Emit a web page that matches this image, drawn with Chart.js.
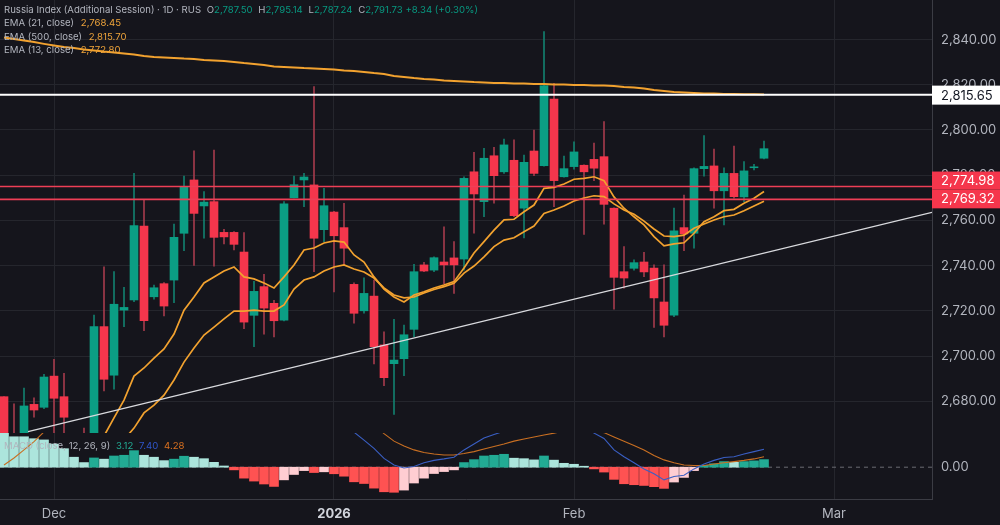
<!DOCTYPE html>
<html>
<head>
<meta charset="utf-8">
<script src="https://cdn.jsdelivr.net/npm/chart.js@4/dist/chart.umd.min.js"></script>
<style>
    html, body { margin: 0; padding: 0; background: #15151c; width: 1000px; height: 525px; overflow: hidden; }
    canvas { position: absolute; left: 0; }
    #price-chart { top: 0; }
    #macd-chart { top: 433px; }
    .legend { position: absolute; left: 4px; font: 9.6px Inter, sans-serif; color: #b2b5be; line-height: 14px; white-space: nowrap; }
    .orange { color: #eda33a; margin-left: 4px; }
    .teal { color: #089981; }
    .gap { margin-left: 3px; }
</style>
</head>
<body>
<canvas id="price-chart" width="1000" height="433"></canvas>
<canvas id="macd-chart" width="1000" height="92"></canvas>

<div class="legend" style="top:3px">Russia Index (Additional Session) · 1D · RUS <span class="gap">O</span><span class="teal">2,787.50</span> <span class="gap">H</span><span class="teal">2,795.14</span> <span class="gap">L</span><span class="teal">2,787.24</span> <span class="gap">C</span><span class="teal">2,791.73</span> <span class="teal">+8.34 (+0.30%)</span></div>
<div class="legend" style="top:16px">EMA (21, close) <span class="orange">2,768.45</span></div>
<div class="legend" style="top:30px">EMA (500, close) <span class="orange">2,815.70</span></div>
<div class="legend" style="top:43px">EMA (13, close) <span class="orange">2,772.80</span></div>
<div class="legend" style="top:439px">MACD (close, 12, 26, 9) <span class="gap" style="color:#22ab94">3.12</span> <span class="gap" style="color:#2f55c9">7.40</span> <span class="gap" style="color:#d9701f">4.28</span></div>

<script>
// Candles, one per session
const opens = [2682.0,2664,2660.6,2678.6,2677.3,2691.1,2682.0,2650,2660,2650,2713.0,2691.5,2720.3,2724.8,2757.5,2726.2,2732.0,2733.6,2754.3,2777.9,2766.4,2768.3,2754.7,2754.7,2746.0,2718.0,2730.7,2723.3,2715.9,2770.0,2777.9,2775.7,2755.9,2763.7,2756.8,2731.7,2720.0,2726.5,2704.9,2696.6,2698.8,2711.8,2740.3,2738.0,2741.6,2743.4,2742.9,2781.5,2768.3,2788.6,2781.5,2786.6,2765.4,2790.7,2784.2,2813.7,2779.3,2783.8,2784.4,2787.0,2788.2,2765.4,2737.3,2738.8,2741.6,2738.9,2723.9,2718.1,2756.8,2754.3,2782.9,2784.1,2773.1,2780.8,2770.4,2783.3,2787.50];
const closes = [2662.8,2650,2677.9,2676.1,2690.7,2681.3,2672.9,2655,2650,2713.0,2689.7,2722.9,2721.5,2757.7,2715.6,2730.2,2722.1,2752.5,2774.9,2763.1,2768.1,2752.5,2752.7,2749.4,2715.0,2728.6,2721.2,2715.6,2767.3,2775.8,2779.2,2752.1,2766.5,2753.2,2747.7,2718.9,2727.7,2704.1,2690.4,2698.2,2709.4,2737.3,2737.6,2743.5,2740.3,2740.3,2778.6,2771.7,2787.5,2779.8,2793.4,2762.1,2785.7,2780.8,2819.6,2777.6,2782.9,2790.3,2781.5,2783.1,2767.1,2734.8,2734.5,2741.3,2737.2,2725.7,2713.6,2755.4,2754.0,2782.9,2783.9,2773.1,2780.8,2770.5,2781.9,2783.7,2791.73];
const highs = [2682.0,2678.8,2685.8,2681.5,2691.9,2698.5,2692.3,2658,2668.1,2718.1,2739.5,2737.3,2730.4,2780.8,2769.0,2731.4,2732.5,2758.4,2779.6,2790.8,2772.7,2791.1,2756.1,2755.0,2754.6,2733.0,2736.1,2724.6,2768.3,2779.6,2780.8,2819.2,2774.2,2764,2767.6,2732.4,2734.6,2733.6,2710.7,2716.2,2713.7,2740.6,2741.5,2743.9,2757.2,2750.6,2779.3,2790.1,2791.9,2792.3,2796.0,2795.6,2788.9,2800.0,2843.5,2820.7,2788.5,2794.8,2784.6,2794.2,2803.7,2765.6,2748.4,2742.5,2745.9,2740.3,2740.3,2765.4,2771.2,2783.3,2797.5,2791.6,2783.3,2792.9,2786.0,2784.8,2795.14];
const lows = [2660,2645,2656,2672.9,2676.7,2662.8,2660,2640,2645,2645,2684.6,2685.3,2713.0,2724.0,2711.2,2725.1,2717.7,2723.6,2746.6,2740.1,2752.1,2739.8,2749.6,2746.9,2712.1,2704.1,2709.7,2708.4,2715.5,2769.9,2766.1,2737.3,2750.6,2728.4,2740.3,2714.5,2718.9,2696.5,2686.9,2674.2,2691.3,2708.5,2737.3,2737.3,2731.9,2727.7,2738.0,2754.3,2761.6,2767.6,2780.8,2761.6,2752.3,2779.8,2784.0,2766.1,2779.1,2782.7,2753.8,2777.6,2758.3,2720.7,2730.0,2738.0,2735.1,2712.7,2708.4,2717.4,2746.6,2747.7,2779.6,2765.4,2758.0,2769.8,2768.3,2782.3,2787.24];

// Moving averages
const ema500 = [2840.9,2840.3,2839.6,2838.9,2838.1,2837.4,2836.7,2836.3,2835.6,2835.2,2834.7,2834.3,2833.9,2833.4,2832.7,2832.3,2832.1,2831.9,2831.6,2831.4,2831.0,2830.8,2830.5,2830.1,2829.6,2829.2,2828.8,2828.1,2827.9,2827.7,2827.4,2827.2,2827.0,2826.8,2826.3,2826.1,2825.7,2825.2,2824.8,2823.9,2823.5,2823.0,2822.6,2822.3,2821.9,2821.7,2821.5,2821.2,2821.0,2820.8,2820.8,2820.6,2820.6,2820.4,2820.4,2820.1,2820.1,2819.9,2819.9,2819.7,2819.7,2819.5,2819.0,2818.8,2818.4,2817.7,2817.3,2816.8,2816.6,2816.4,2816.2,2816.1,2815.9,2815.9,2815.8,2815.8,2815.70];
const ema13 = [null,null,null,null,null,null,null,null,null,null,2664.6,2672.6,2680.5,2691.1,2694.7,2699.1,2703.1,2709.7,2720.3,2726.1,2732.3,2735.0,2737.6,2739.4,2735.0,2734.1,2732.3,2730.1,2735.0,2740.3,2746.9,2747.8,2750.0,2750.9,2750.4,2744.7,2741.6,2735.0,2729.6,2726.1,2723.9,2727.0,2728.4,2730.1,2731.4,2732.9,2738.9,2745.6,2750.6,2755.7,2760.2,2760.5,2763.8,2766.8,2774.2,2774.6,2776.1,2778.2,2778.6,2779.3,2777.6,2770.4,2765.4,2761.6,2758.0,2752.8,2748.7,2749.6,2750.1,2754.3,2759.4,2761.6,2764.3,2764.9,2767.6,2769.8,2772.80];
const ema21 = [null,null,null,null,null,null,null,null,null,null,null,null,2663,2668.1,2674.8,2678.3,2682.7,2689.4,2697.3,2703.5,2709.3,2712.8,2716.4,2719.9,2719.9,2720.3,2719.9,2719.9,2722.6,2729.6,2733.6,2735.0,2737.6,2739.4,2740.3,2738.5,2737.2,2734.5,2730.1,2727.0,2725.7,2726.1,2727.9,2729.4,2730.7,2732.2,2736.7,2739.8,2743.9,2748.4,2751.3,2752.3,2755.0,2757.5,2763.1,2764.6,2766.4,2768.6,2769.9,2770.9,2770.5,2767.3,2764.6,2762.7,2759.7,2756.2,2753.1,2752.8,2753.5,2756.5,2758.4,2760.2,2761.6,2762.4,2764.3,2766.4,2768.45];

// MACD pane
const macdHist = [14,12.5,12.5,11.7,11.2,9.5,7.6,4.1,1.9,3.8,3.3,4.6,4.9,6.8,4.9,4.1,2.7,3.3,4.5,4.1,3.5,2.0,0.5,-1.1,-4.5,-5.7,-6.9,-7.9,-5.2,-3.0,-1.4,-2.2,-1.9,-2.7,-3.7,-6.0,-6.7,-8.6,-10.1,-10.3,-9.4,-6.5,-4.5,-2.6,-1.8,-1.1,1.9,3.1,4.6,4.9,5.3,3.7,3.5,3.0,4.6,2.9,1.6,1.2,0.4,-0.7,-2.0,-5.0,-6.8,-7.2,-7.5,-8.0,-8.7,-6.1,-4.2,-1.4,0.8,1.4,2.3,2.0,2.3,2.6,3.12];
const macdLine = [null,null,null,null,null,null,null,null,null,null,null,null,null,null,null,null,null,null,null,null,null,null,null,null,null,null,null,null,null,null,null,null,null,null,null,14.4,11.1,7.7,3.6,0.9,-0.3,0.3,1.8,2.8,3.4,4.1,7.1,9.5,12.0,13.4,14.8,null,null,null,null,null,null,null,16.9,14.0,11.8,7.1,4.3,1.8,-0.7,-2.7,-5.2,-3.8,-3.3,-0.7,1.3,2.8,4.0,4.3,5.4,6.4,7.40];
const macdSignal = [0.9,3.8,7.1,10.5,14.5,18,null,null,null,null,null,null,null,null,null,null,null,null,null,null,null,null,null,null,null,null,null,null,null,null,null,null,null,null,null,null,null,17.3,13.8,10.7,8.7,7.1,6.0,5.4,5.0,5.0,5.6,6.4,7.5,8.5,9.5,10.7,11.6,12.4,13.2,14.0,14.8,null,null,15.6,14.2,12.4,10.7,8.9,7.1,4.8,3.0,1.8,0.9,0.7,0.7,1.3,1.8,2.3,2.8,3.4,4.28];

// Axes and drawn levels
const priceTicks = [2680, 2700, 2720, 2740, 2760, 2780, 2800, 2820, 2840];
const timeTickIndex = [5, 33, 57, 83];
const timeTickLabels = ['Dec', '2026', 'Feb', 'Mar'];
const trendX = [2.4, 92.8];
const trendY = [2666.5, 2763.6];
const levelWhite = 2815.65;
const levelRed1 = 2774.98;
const levelRed2 = 2769.32;

// View window, so both panes line up
const X_MIN = -0.4, X_MAX = 92.8;
const AXIS_W = 68;
const TIME_AXIS_H = 26;
const GRID = '#25262d', EDGE = '#3b3c44', TEXT = '#b2b5be';
const UP = '#0b9e84', DOWN = '#f5364c', UP_WICK = '#137f6e', DOWN_WICK = '#a33a4c';
const EMA_COLOR = '#f2a22f';
const TICK_FONT = { family: 'Inter, sans-serif', size: 13 };

const fmt = v => v.toLocaleString('en-US', { minimumFractionDigits: 2, maximumFractionDigits: 2 });
const toPoints = arr => arr.map((y, i) => ({ x: i, y: y }));
const flat = v => [{ x: X_MIN, y: v }, { x: X_MAX, y: v }];

function lineSet(data, color, width, order, extra) {
    return Object.assign({
        type: 'line', data: data, borderColor: color, borderWidth: width,
        pointRadius: 0, tension: 0, order: order
    }, extra || {});
}

// Tick labels would otherwise push the plot area away from the canvas edges
function noPadding(scale) {
    scale.paddingTop = 0;
    scale.paddingBottom = 0;
    scale.paddingLeft = 0;
    scale.paddingRight = 0;
}

function fixedY(scale) {
    scale.width = AXIS_W;
    noPadding(scale);
}

function xAxis(showLabels) {
    return {
        type: 'linear', min: X_MIN, max: X_MAX, offset: false,
        afterBuildTicks: s => { s.ticks = timeTickIndex.map(v => ({ value: v })); },
        afterFit: s => {
            noPadding(s);
            if (showLabels) s.height = TIME_AXIS_H;
        },
        grid: { color: GRID, drawTicks: false, offset: false },
        border: { display: true, color: EDGE },
        ticks: {
            display: showLabels, autoSkip: false, maxRotation: 0, padding: 7,
            callback: v => timeTickLabels[timeTickIndex.indexOf(v)],
            color: ctx => ctx.tick && ctx.tick.value === 33 ? '#d1d4dc' : TEXT,
            font: ctx => Object.assign({}, TICK_FONT, { weight: ctx.tick && ctx.tick.value === 33 ? '700' : '400' })
        }
    };
}

// Price tags on the right axis, text stays on top of the tick labels
const priceTags = {
    id: 'priceTags',
    afterDraw(chart) {
        const { ctx, scales: { y } } = chart;
        const left = chart.chartArea.right;
        const tag = (top, h, fill, color, label) => {
            ctx.fillStyle = fill;
            ctx.fillRect(left, top, 1000 - left, h);
            ctx.fillStyle = color;
            ctx.font = '13px Inter, sans-serif';
            ctx.textBaseline = 'middle';
            ctx.fillText(label, left + 9, top + h / 2 + 0.5);
        };
        ctx.save();
        tag(y.getPixelForValue(levelWhite) - 9, 19, '#ffffff', '#131722', fmt(levelWhite));
        const redTop = y.getPixelForValue(levelRed1) - 15;
        const redMid = y.getPixelForValue(levelRed2) - 10;
        tag(redTop, redMid - redTop, DOWN, '#ffffff', fmt(levelRed1));
        tag(redMid, 19, DOWN, '#ffffff', fmt(levelRed2));
        ctx.restore();
    }
};

function renderPrice() {
    const up = closes.map((c, i) => c >= opens[i]);
    new Chart(document.getElementById('price-chart'), {
        type: 'bar',
        data: {
            datasets: [
                {
                    data: lows.map((l, i) => ({ x: i, y: [l, highs[i]] })),
                    backgroundColor: up.map(u => u ? UP_WICK : DOWN_WICK),
                    barThickness: 1, grouped: false, order: 10
                },
                {
                    data: opens.map((o, i) => ({ x: i, y: [o, closes[i]] })),
                    backgroundColor: up.map(u => u ? UP : DOWN),
                    barThickness: 8, grouped: false, order: 9
                },
                lineSet(toPoints(ema500), EMA_COLOR, 2, 5),
                lineSet(toPoints(ema21), EMA_COLOR, 1.7, 4),
                lineSet(toPoints(ema13), EMA_COLOR, 1.7, 3),
                lineSet(trendX.map((x, i) => ({ x: x, y: trendY[i] })), '#d9dade', 1.3, 2),
                lineSet(flat(levelWhite), '#ffffff', 2, 1),
                lineSet(flat(levelRed1), '#ee3f56', 1.6, 1),
                lineSet(flat(levelRed2), '#ee3f56', 1.6, 1)
            ]
        },
        options: {
            responsive: false, animation: false,
            layout: { padding: 0 },
            plugins: { legend: { display: false }, tooltip: { enabled: false } },
            scales: {
                x: xAxis(false),
                y: {
                    position: 'right', min: 2665.93, max: 2857.52,
                    afterBuildTicks: s => { s.ticks = priceTicks.map(v => ({ value: v })); },
                    afterFit: fixedY,
                    grid: { color: GRID, drawTicks: false },
                    border: { display: true, color: EDGE },
                    ticks: { color: TEXT, font: TICK_FONT, padding: 9, crossAlign: 'near', callback: v => fmt(v) }
                }
            }
        },
        plugins: [priceTags]
    });
}

function renderMacd() {
    // Histogram shade follows the direction against the previous bar
    const histColor = macdHist.map((v, i) => {
        const rising = i > 0 && v > macdHist[i - 1];
        if (v >= 0) return rising ? '#22ab94' : '#ace5dc';
        return rising ? '#ffcdd2' : '#ff5252';
    });
    new Chart(document.getElementById('macd-chart'), {
        type: 'bar',
        data: {
            datasets: [
                lineSet(flat(0), '#6a6b72', 1, 10, { borderDash: [4, 4] }),
                {
                    data: toPoints(macdHist),
                    backgroundColor: histColor,
                    barThickness: 9, order: 5
                },
                lineSet(toPoints(macdSignal), '#c96f22', 1.1, 3),
                lineSet(toPoints(macdLine), '#3a5fc4', 1.1, 2)
            ]
        },
        options: {
            responsive: false, animation: false,
            layout: { padding: 0 },
            plugins: { legend: { display: false }, tooltip: { enabled: false } },
            scales: {
                x: xAxis(true),
                y: {
                    position: 'right', min: -13.06, max: 14.04,
                    afterBuildTicks: s => { s.ticks = [{ value: 0 }]; },
                    afterFit: fixedY,
                    grid: { display: false, drawTicks: false },
                    border: { display: true, color: EDGE },
                    ticks: { color: TEXT, font: TICK_FONT, padding: 9, crossAlign: 'near', callback: v => fmt(v) }
                }
            }
        }
    });
}

renderPrice();
renderMacd();
</script>
</body>
</html>
